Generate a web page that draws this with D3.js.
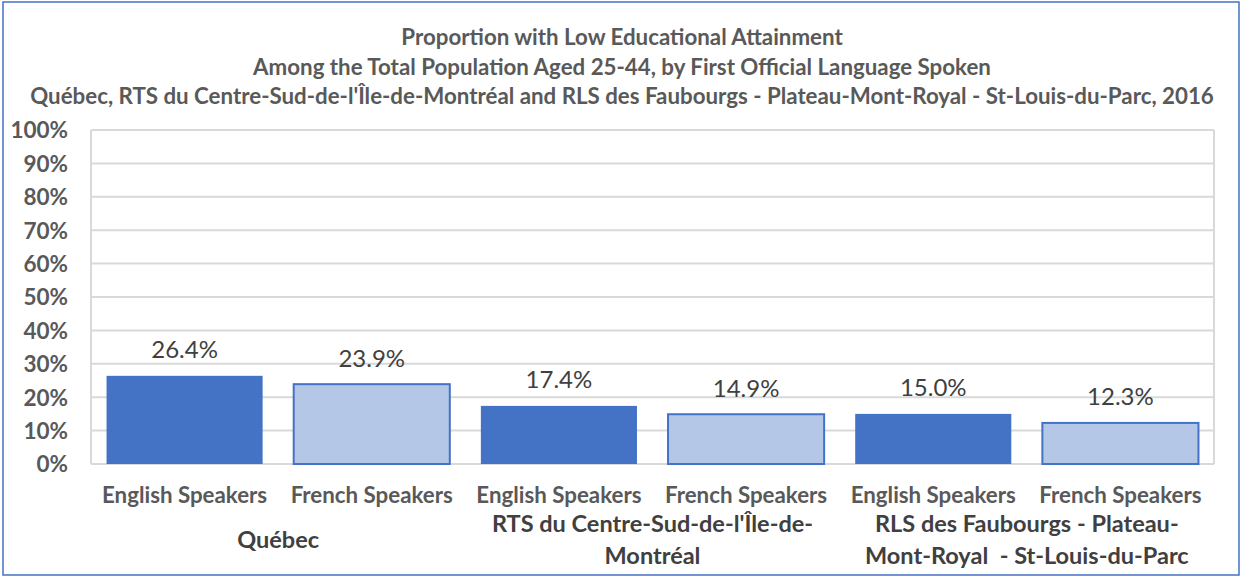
<!DOCTYPE html>
<html>
<head>
<meta charset="utf-8">
<script src="https://cdn.jsdelivr.net/npm/d3@7"></script>
<style>
  body { margin: 0; background: #fff; }
  svg { display: block; font-family: Lato, "Open Sans", sans-serif; }
</style>
</head>
<body>
<div id="chart"></div>
<script>
// chart data
const titleLines = [
    "Proportion with Low Educational Attainment",
    "Among the Total Population Aged 25-44, by First Official Language Spoken",
    "Québec, RTS du Centre-Sud-de-l'Île-de-Montréal and RLS des Faubourgs - Plateau-Mont-Royal - St-Louis-du-Parc, 2016"
];
const regions = ["Québec", "RTS du Centre-Sud-de-l'Île-de-Montréal", "RLS des Faubourgs - Plateau-Mont-Royal - St-Louis-du-Parc"];
const regionLabelLines = [
    ["Québec"],
    ["RTS du Centre-Sud-de-l'Île-de-", "Montréal"],
    ["RLS des Faubourgs - Plateau-", "Mont-Royal  - St-Louis-du-Parc"]
];
const languages = ["English Speakers", "French Speakers"];
const englishValues = [26.4, 17.4, 15.0];
const frenchValues = [23.9, 14.9, 12.3];
const yTicks = [0, 10, 20, 30, 40, 50, 60, 70, 80, 90, 100];

const width = 1242;
const height = 577;
const margin = { top: 130, right: 28, bottom: 113, left: 91 };

// one row per bar
const rows = [];
regions.forEach((r, i) => {
    rows.push({ region: i, lang: 0, key: r + "|E", value: englishValues[i] });
    rows.push({ region: i, lang: 1, key: r + "|F", value: frenchValues[i] });
});

const svg = d3.select("#chart").append("svg")
    .attr("width", width)
    .attr("height", height);

// outer frame
svg.append("rect")
    .attr("x", 3).attr("y", 2)
    .attr("width", width - 6).attr("height", height - 4)
    .attr("fill", "#fff")
    .attr("stroke", "#4472C4")
    .attr("stroke-width", 1.5);

// title
svg.append("g").selectAll("text")
    .data(titleLines)
    .enter().append("text")
    .attr("x", 622)
    .attr("y", (d, i) => 45 + i * 29.5)
    .attr("text-anchor", "middle")
    .attr("font-size", "22.3px")
    .attr("font-weight", "bold")
    .attr("fill", "#595959")
    .text(d => d);

const x = d3.scaleBand()
    .domain(rows.map(d => d.key))
    .range([margin.left, width - margin.right])
    .paddingInner(0.166)
    .paddingOuter(0.083);

const y = d3.scaleLinear()
    .domain([0, 100])
    .range([height - margin.bottom, margin.top]);

// gridlines
svg.append("g").selectAll("line")
    .data(yTicks)
    .enter().append("line")
    .attr("x1", margin.left).attr("x2", width - margin.right)
    .attr("y1", d => y(d)).attr("y2", d => y(d))
    .attr("stroke", "#d9d9d9")
    .attr("stroke-width", 2);

// plot area border sides
svg.append("line")
    .attr("x1", margin.left).attr("x2", margin.left)
    .attr("y1", y(0)).attr("y2", y(100))
    .attr("stroke", "#d9d9d9").attr("stroke-width", 2);
svg.append("line")
    .attr("x1", width - margin.right).attr("x2", width - margin.right)
    .attr("y1", y(0)).attr("y2", y(100))
    .attr("stroke", "#d9d9d9").attr("stroke-width", 2);

// y axis
const yAxis = svg.append("g")
    .attr("transform", `translate(${margin.left - 23},0)`)
    .call(d3.axisLeft(y).tickValues(yTicks).tickFormat(d => d + "%").tickSize(0).tickPadding(0));
yAxis.select(".domain").remove();
yAxis.selectAll("text")
    .attr("font-family", "Lato, 'Open Sans', sans-serif")
    .attr("font-size", "22.5px")
    .attr("font-weight", "bold")
    .attr("fill", "#595959")
    .attr("dy", "0.35em");

// bars
svg.append("g").selectAll("rect")
    .data(rows)
    .enter().append("rect")
    .attr("x", d => x(d.key))
    .attr("y", d => y(d.value))
    .attr("width", x.bandwidth())
    .attr("height", d => y(0) - y(d.value))
    .attr("fill", d => d.lang == 0 ? "#4472C4" : "#B4C7E7")
    .attr("stroke", "#4472C4")
    .attr("stroke-width", d => d.lang == 0 ? 0 : 2);

// data labels
svg.append("g").selectAll("text")
    .data(rows)
    .enter().append("text")
    .attr("x", d => x(d.key) + x.bandwidth() / 2)
    .attr("y", d => y(d.value) - 17.5)
    .attr("text-anchor", "middle")
    .attr("font-size", "24px")
    .attr("fill", "#404040")
    .text(d => d.value.toFixed(1) + "%");

// category labels
svg.append("g").selectAll("text")
    .data(rows)
    .enter().append("text")
    .attr("x", d => x(d.key) + x.bandwidth() / 2)
    .attr("y", 503)
    .attr("text-anchor", "middle")
    .attr("font-size", "22.3px")
    .attr("font-weight", "bold")
    .attr("fill", "#595959")
    .text(d => languages[d.lang]);

// region labels
const step = x.step();
regionLabelLines.forEach((lines, i) => {
    const cx = margin.left + step * (2 * i + 1);
    const startY = lines.length == 1 ? 548 : 532;
    lines.forEach((line, j) => {
        svg.append("text")
            .attr("x", cx)
            .attr("y", startY + j * 32)
            .attr("text-anchor", "middle")
            .attr("font-size", "23.5px")
            .attr("font-weight", "bold")
            .attr("fill", "#404040")
            .attr("xml:space", "preserve")
            .text(line);
    });
});
</script>
</body>
</html>
